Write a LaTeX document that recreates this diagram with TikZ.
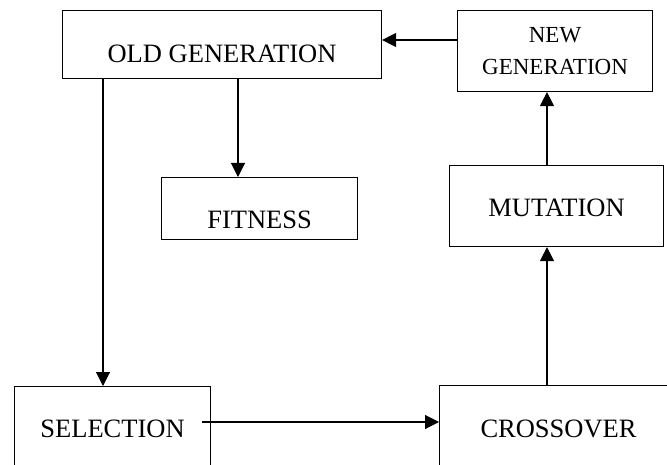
\documentclass[tikz,border=0pt]{standalone}
\usepackage{fontspec}
\setmainfont{Liberation Serif}
\usetikzlibrary{arrows.meta}
\begin{document}
\begin{tikzpicture}[x=1pt,y=-1pt,line width=1.1pt]

        \clip (0,0) rectangle (667,465);

        \begin{scope}[every node/.style={draw, rectangle, anchor=north west, inner sep=0pt,
            font=\fontsize{26.5}{32}\selectfont}]
          \node[minimum width=319, text height=52, text depth=16] (old)   at (62,10)   {OLD GENERATION};
          \node[minimum width=196, text height=51, text depth=11] (fit)   at (161,177) {FITNESS};
          \node[minimum width=195, minimum height=81, align=center,
                font=\fontsize{23}{32}\selectfont]                (newg)  at (457,10)  {NEW\\GENERATION};
          \node[minimum width=214, text height=51, text depth=30] (mut)   at (449,165) {MUTATION};
          \node[minimum width=196, text height=51, text depth=63] (sel)   at (14,386)  {SELECTION};
          \node[minimum width=238, text height=52, text depth=63] (cross) at (439,385) {CROSSOVER};
        \end{scope}

        \coordinate (lvlA)  at (0,40);
        \coordinate (lvlB)  at (202,422);
        \coordinate (laneA) at (103,0);
        \coordinate (laneB) at (238,0);
        \coordinate (laneC) at (547,0);

        \begin{scope}[every edge/.style={draw, -{Triangle[length=14pt,width=14pt]}}]
          \path (newg.west |- lvlA)    edge (old.east |- lvlA);
          \path (old.south -| laneB)   edge (fit.north -| laneB);
          \path (old.south -| laneA)   edge (sel.north -| laneA);
          \path (lvlB)                 edge (cross.west |- lvlB);
          \path (cross.north -| laneC) edge (mut.south -| laneC);
          \path (mut.north -| laneC)   edge (newg.south -| laneC);
        \end{scope}

      \end{tikzpicture}
\end{document}
